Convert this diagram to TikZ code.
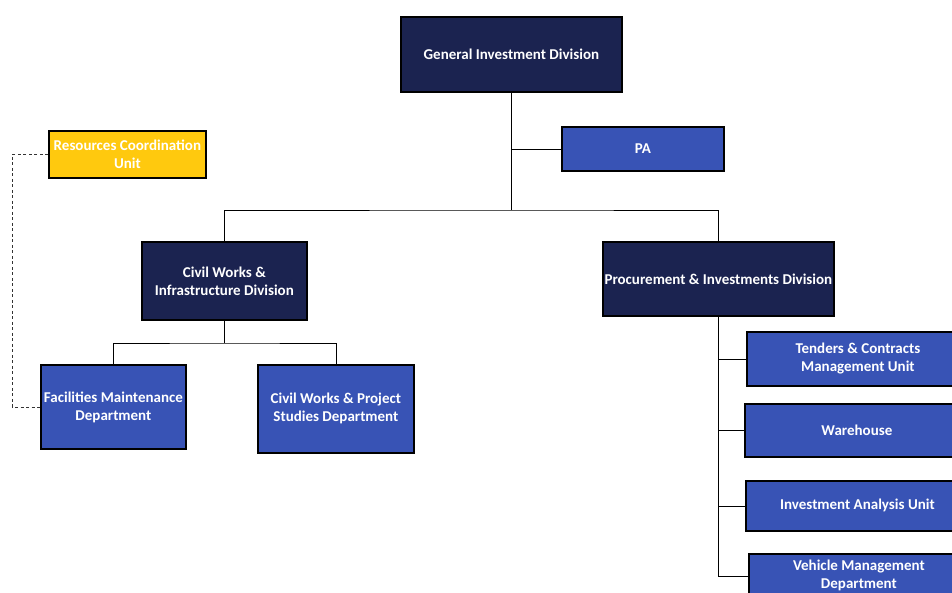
\documentclass[tikz,border=0pt]{standalone}
\usepackage{fontspec}
\setmainfont{Carlito}
\definecolor{navyfill}{RGB}{27,35,80}
\definecolor{bluefill}{RGB}{56,83,181}
\definecolor{goldfill}{RGB}{255,201,14}
\begin{document}
\begin{tikzpicture}[x=1pt,y=-1pt,
  unitbox/.style={draw=black, line width=1.8pt, rectangle, anchor=north west,
    inner sep=0pt, align=center, text=white,
    font=\fontsize{15}{18}\selectfont\bfseries},
  division/.style={unitbox, fill=navyfill},
  dept/.style={unitbox, fill=bluefill},
  coord/.style={unitbox, fill=goldfill},
  link/.style={draw=black, line width=0.8pt},
  dotted link/.style={draw=black!80, line width=0.8pt, dash pattern=on 3pt off 2.5pt}]
\useasboundingbox[fill=white] (0,0) rectangle (952,592);
\begin{scope}
\clip (0,0) rectangle (952,592);
% top level
\node[division, minimum width=221pt, minimum height=75pt] (gid) at (400,16) {General Investment Division};
\node[dept, minimum width=162pt, minimum height=44pt] (pa) at (561,126) {PA};
\node[coord, minimum width=157pt, minimum height=47pt] (rcu) at (48,130) {Resources Coordination\\Unit};
% divisions
\node[division, minimum width=165pt, minimum height=78pt] (cwid) at (141,241) {Civil Works \&\\Infrastructure Division};
\node[division, minimum width=231pt, minimum height=74pt] (pid) at (602,241) {Procurement \& Investments Division};
% departments under civil works
\node[dept, minimum width=145pt, minimum height=84pt] (fmd) at (40,364) {Facilities Maintenance\\Department};
\node[dept, minimum width=156pt, minimum height=88pt] (cwps) at (257,364) {Civil Works \& Project\\Studies Department};
% units under procurement
\node[dept, minimum width=222pt, minimum height=54pt] (tcmu) at (746,331) {Tenders \& Contracts\\Management Unit};
\node[dept, minimum width=224pt, minimum height=53pt] (wh) at (744,403) {Warehouse};
\node[dept, minimum width=223pt, minimum height=50pt] (iau) at (745,480) {Investment Analysis Unit};
\node[dept, minimum width=220pt, minimum height=44pt] (vmd) at (748,553) {Vehicle Management\\Department};
\end{scope}
% connectors
\coordinate (bus) at (gid.south |- 0,210);
\coordinate (cwbus) at (cwid.south |- 0,343);
\draw[link] (gid.south) -- (bus);
\draw[link] (gid.south) |- (pa.west);
\draw[link] (cwid.north) |- (bus) -| (pid.north);
\draw[link] (cwid.south) -- (cwbus);
\draw[link] (fmd.north) |- (cwbus) -| (cwps.north);
\draw[link] (pid.south) |- (tcmu.west);
\draw[link] (pid.south) |- (wh.west);
\draw[link] (pid.south) |- (iau.west);
\draw[link] (pid.south) |- (vmd.west);
\draw[dotted link] (rcu.west) -- ++(-36,0) |- (fmd.west);
\end{tikzpicture}
\end{document}
